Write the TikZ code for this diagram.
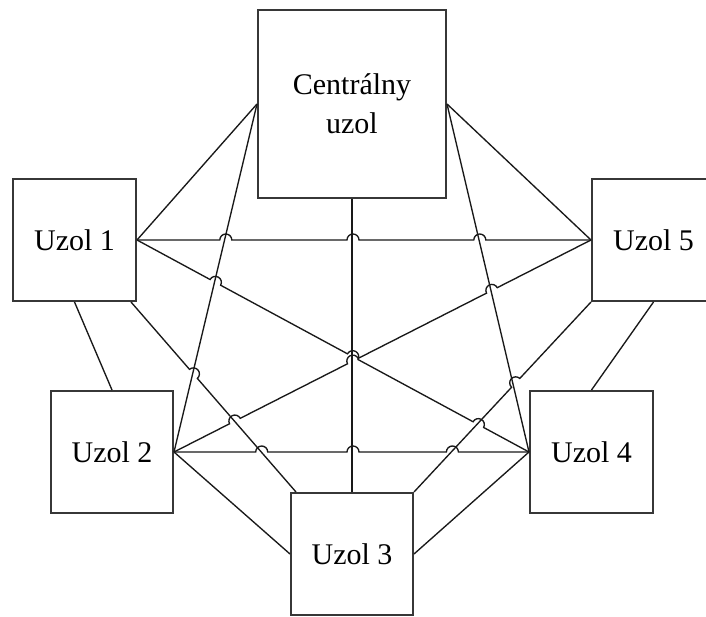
\documentclass[tikz,border=0pt]{standalone}
\usepackage{fontspec}
\setmainfont{Liberation Serif}
\usetikzlibrary{calc}

\definecolor{boxline}{RGB}{55,55,55}
\definecolor{wire}{RGB}{25,25,25}

% radius of the small bridge drawn where a connector jumps over another one
\newcommand\hoprad{6pt}
% connector from #1 to #2 with bridges at the given distances (pt) from #1
\newcommand\hopline[3]{%
  \draw[link] let \p1=($(#2)-(#1)$), \n1={atan2(\y1,\x1)} in
    (#1) \foreach \d in {#3}{
      -- ($(#1)!{\d pt-\hoprad}!(#2)$)
      arc[start angle=\n1+180, delta angle=-180, radius=\hoprad]
    } -- (#2);
}

\begin{document}
\begin{tikzpicture}[x=1pt,y=1pt,
  box/.style={draw=boxline, line width=2pt, fill=white, inner sep=0pt,
    font=\fontsize{30}{39}\selectfont, align=center},
  link/.style={draw=wire, line width=1.35pt}]
\useasboundingbox (0,0) rectangle (706,-617);
\clip (0,0) rectangle (706,-617);

% nodes
\node[box, minimum width=188, minimum height=188] (c)  at (352,-104)   {Centrálny\\uzol};
\node[box, minimum width=123, minimum height=122] (u1) at (74.5,-240)  {Uzol 1};
\node[box, minimum width=123, minimum height=122] (u5) at (653.5,-240) {Uzol 5};
\node[box, minimum width=122, minimum height=122] (u2) at (112,-452)   {Uzol 2};
\node[box, minimum width=123, minimum height=122] (u4) at (591.5,-452) {Uzol 4};
\node[box, minimum width=122, minimum height=122] (u3) at (352,-554)   {Uzol 3};

% connection points near the corners
\coordinate (p13) at ($(u1.south east)+(-6,0)$);
\coordinate (p31) at ($(u3.north west)+(6,0)$);

% plain connectors
\draw[link] (c.west) -- (u1.east);
\draw[link] (c.west) -- (u2.east);
\draw[link] (c.south) -- (u3.north);
\draw[link] (c.east) -- (u4.west);
\draw[link] (c.east) -- (u5.west);
\draw[link] (u1.south) -- (u2.north);
\draw[link] (u5.south) -- (u4.north);
\draw[link] (u2.east) -- (u3.west);
\draw[link] (u4.west) -- (u3.east);

% connectors that bridge over crossings
\hopline{u1.east}{u5.west}{88.8,216,342.8}
\hopline{u1.east}{u4.west}{89.1,245.3,388.1}
\hopline{u2.east}{u5.west}{68.3,200.6,356.6}
\hopline{u2.east}{u4.west}{87.7,179,278.4}
\hopline{p13}{p31}{95.2}
\hopline{u3.north east}{u5.south west}{149.2}
\end{tikzpicture}
\end{document}
